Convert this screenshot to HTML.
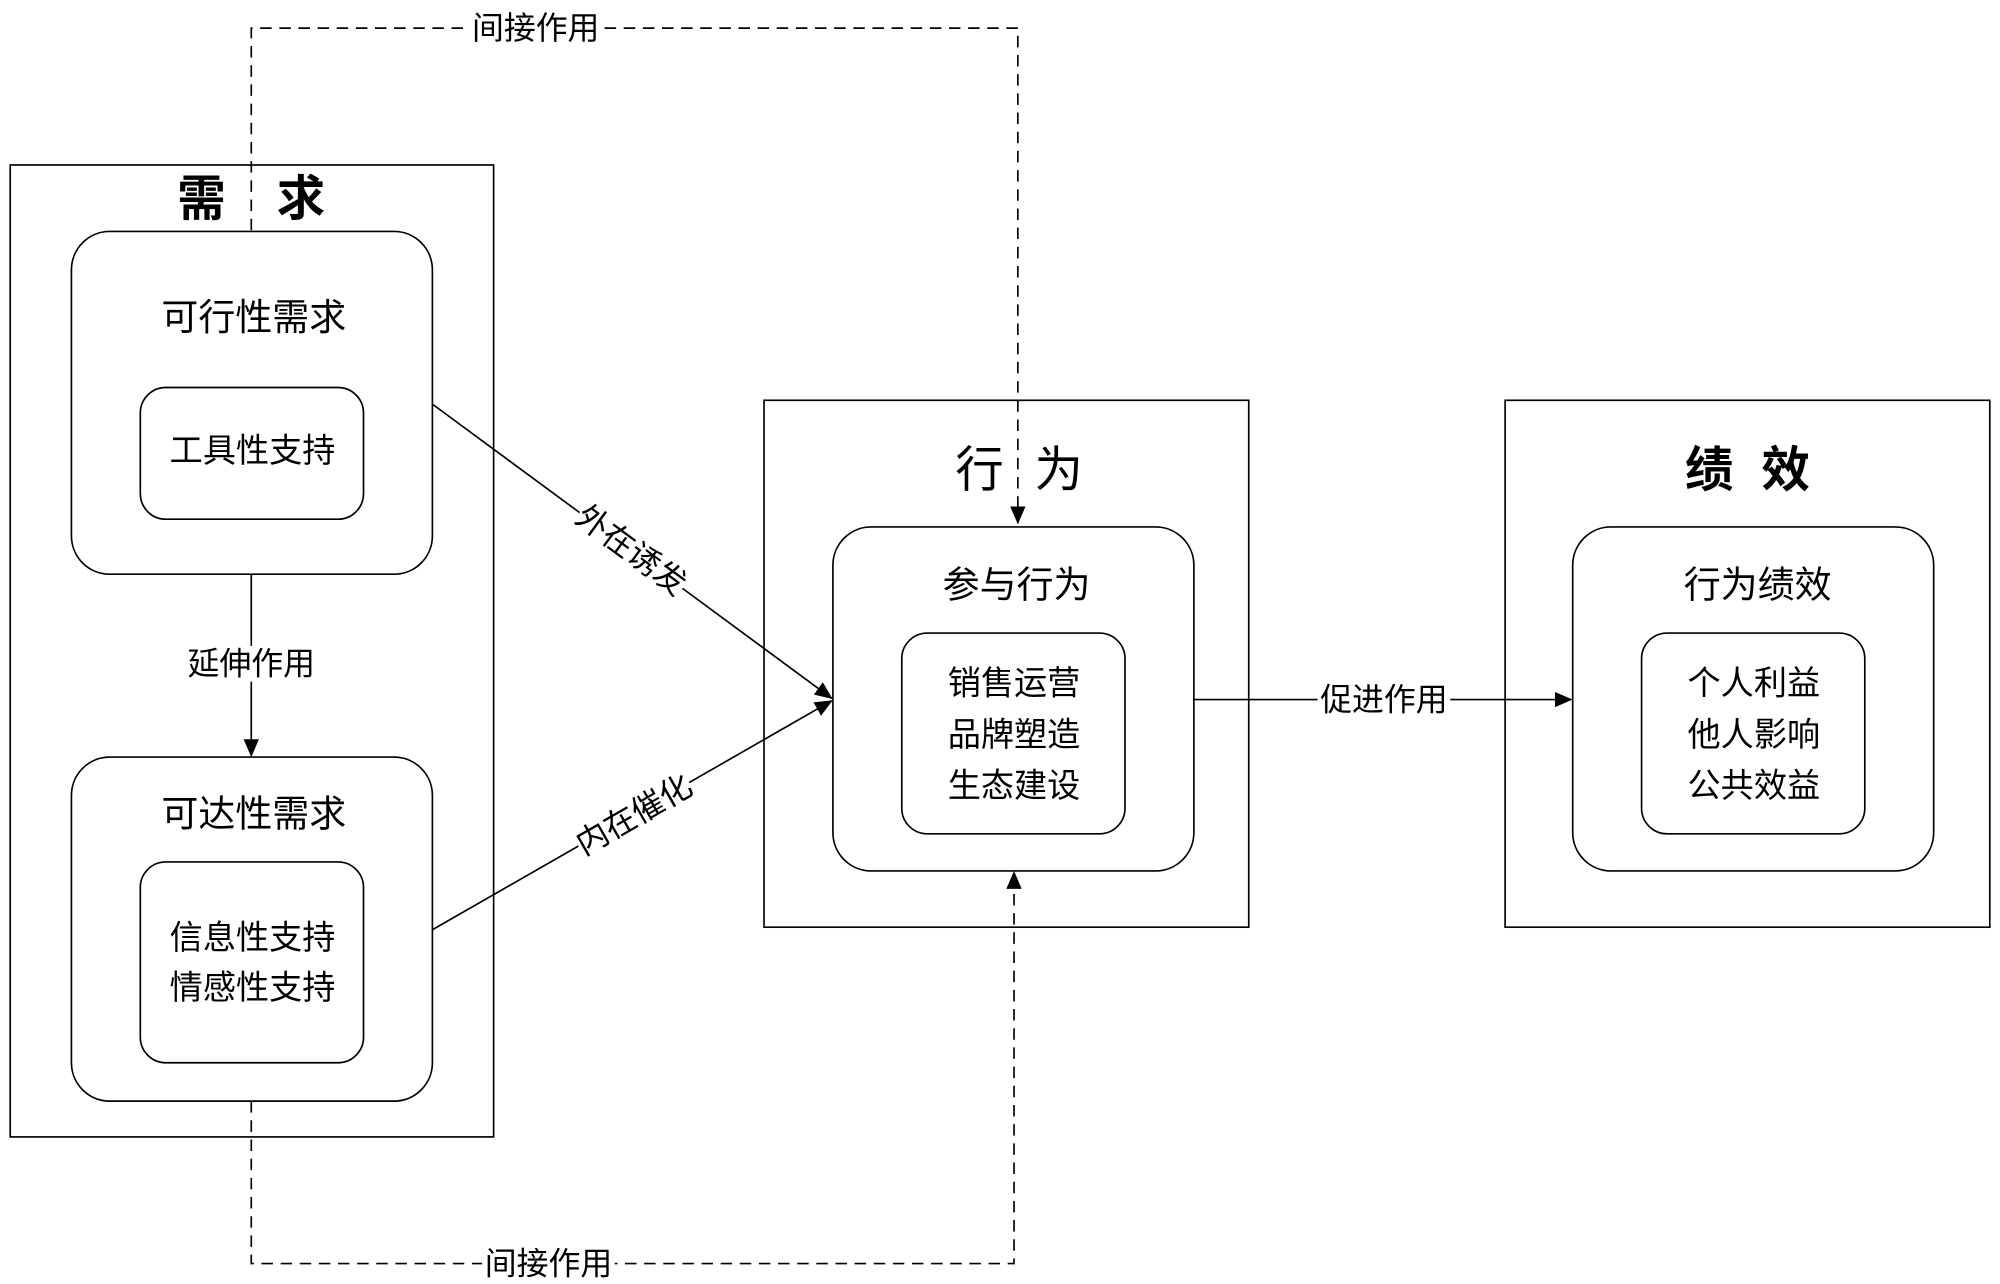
<!DOCTYPE html>
<html><head><meta charset="utf-8"><style>
html,body{margin:0;padding:0;background:#fff;}
svg{display:block;}
text{font-family:"Liberation Sans","Noto Sans CJK SC","WenQuanYi Zen Hei",sans-serif;fill:#000;text-anchor:middle;dominant-baseline:central;}
</style></head><body>
<svg width="2000" height="1284" viewBox="0 0 1568 1004" preserveAspectRatio="none" xmlns="http://www.w3.org/2000/svg">
<defs>
<marker id="a" markerWidth="14" markerHeight="12" refX="13" refY="6" orient="auto" markerUnits="userSpaceOnUse">
<path d="M0,0 L14,6 L0,12 Z" fill="#000"/></marker>
</defs>
<g fill="none" stroke="#000" stroke-width="1.3">
<rect x="8" y="129" width="379" height="760"/>
<rect x="599" y="313" width="380" height="412"/>
<rect x="1180" y="313" width="380" height="412"/>
<rect x="56" y="181" width="283" height="268" rx="30"/>
<rect x="110" y="303" width="175" height="103" rx="20"/>
<rect x="56" y="592" width="283" height="269" rx="30"/>
<rect x="110" y="674" width="175" height="157" rx="20"/>
<rect x="653" y="412" width="283" height="269" rx="30"/>
<rect x="707" y="495" width="175" height="157" rx="20"/>
<rect x="1233" y="412" width="283" height="269" rx="30"/>
<rect x="1287" y="495" width="175" height="157" rx="20"/>
<line x1="197" y1="449" x2="197" y2="591" marker-end="url(#a)"/>
<line x1="936" y1="547" x2="1232" y2="547" marker-end="url(#a)"/>
<line x1="339" y1="316" x2="652" y2="546" marker-end="url(#a)"/>
<line x1="339" y1="727" x2="652" y2="548" marker-end="url(#a)"/>
<g stroke-dasharray="9,6">
<polyline points="197,180 197,22 798,22 798,409" marker-end="url(#a)"/>
<polyline points="197,861 197,988 795,988 795,682" marker-end="url(#a)"/>
</g>
</g>
<g fill="#fff" stroke="none">
<rect x="368" y="8" width="104" height="28"/>
<rect x="378" y="974" width="104" height="28"/>
<rect x="145" y="505" width="104" height="28"/>
<rect x="1033" y="533" width="104" height="28"/>
<rect x="138" y="138" width="40" height="40"/>
<rect x="216" y="138" width="40" height="40"/>
<rect x="748" y="346" width="40" height="44"/>
<rect x="808" y="346" width="44" height="44"/>
<g transform="translate(495,430) rotate(36.3)"><rect x="-50" y="-14" width="100" height="28"/></g>
<g transform="translate(497,637) rotate(-29.8)"><rect x="-50" y="-14" width="100" height="28"/></g>
</g>
<g font-size="25">
<text x="420" y="22">间接作用</text>
<text x="430" y="988">间接作用</text>
<text x="197" y="519">延伸作用</text>
<text x="1085" y="547">促进作用</text>
<text transform="translate(495,430) rotate(36.3)">外在诱发</text>
<text transform="translate(497,637) rotate(-29.8)">内在催化</text>
</g>
<g font-size="38" font-weight="bold">
<text x="158" y="156">需</text><text x="236" y="156">求</text>
<text x="1340" y="368">绩</text><text x="1400" y="368">效</text>
</g>
<g font-size="38">
<text x="768" y="368">行</text><text x="830" y="368">为</text>
</g>
<g font-size="29">
<text x="199" y="248">可行性需求</text>
<text x="199" y="636">可达性需求</text>
<text x="797" y="457">参与行为</text>
<text x="1378" y="457">行为绩效</text>
</g>
<g font-size="26">
<text x="198" y="353">工具性支持</text>
<text x="198" y="734">信息性支持</text>
<text x="198" y="773">情感性支持</text>
<text x="795" y="535">销售运营</text>
<text x="795" y="575">品牌塑造</text>
<text x="795" y="615">生态建设</text>
<text x="1375" y="535">个人利益</text>
<text x="1375" y="575">他人影响</text>
<text x="1375" y="615">公共效益</text>
</g>
</svg>
</body></html>
